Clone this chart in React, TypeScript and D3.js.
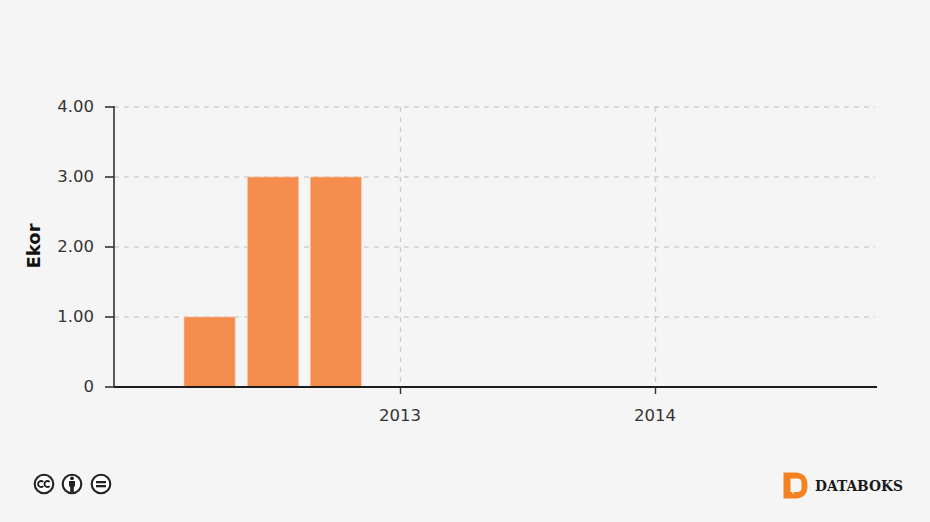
import React from "react";
import * as d3 from "d3";

const barDates = ["2012-04-03", "2012-07-03", "2012-10-01"];
const barValues = [1, 3, 3];
const yTicks = [0, 1, 2, 3, 4];
const xTickYears = [2013, 2014];
const yLabel = "Ekor";
const brand = "DATABOKS";

const W = 930, H = 522;
const font = "'DejaVu Sans', Verdana, sans-serif";
const axisColor = "#333";
const gridColor = "#cfcfcf";

const x = d3.scaleTime()
  .domain([new Date(2011, 10, 18), new Date(2014, 10, 16)])
  .range([114, 877]);
const y = d3.scaleLinear().domain([0, 4]).range([387, 107]);
const barW = 51;
const fmtY = (v: number) => (v === 0 ? "0" : d3.format(".2f")(v));

function parseDate(s: string) {
  const [a, b, c] = s.split("-").map(Number);
  return new Date(a, b - 1, c);
}

export default function App() {
  return (
    <svg width={W} height={H} viewBox={`0 0 ${W} ${H}`}
      style={{ position: "fixed", left: 0, top: 0, display: "block", background: "#f5f5f5" }}>
      <rect width={W} height={H} fill="#f5f5f5" />
      {yTicks.filter((t) => t > 0).map((t) => (
        <line key={t} x1={114} x2={875} y1={y(t)} y2={y(t)}
          stroke={gridColor} strokeWidth={1.4} strokeDasharray="5 5" />
      ))}
      {xTickYears.map((yr) => {
        const px = Math.round(x(new Date(yr, 0, 1))) + 0.5;
        return <line key={yr} x1={px} x2={px} y1={107} y2={387} stroke={gridColor} strokeWidth={1.4} strokeDasharray="5 5" />;
      })}
      {barDates.map((d, i) => {
        const cx = x(parseDate(d));
        return (
          <rect key={d} x={cx - barW / 2} y={y(barValues[i])} width={barW} height={y(0) - y(barValues[i])}
            fill="#f58d4f" stroke="#f9c3a2" strokeWidth={0.6} />
        );
      })}
      <line x1={114} x2={114} y1={106} y2={387} stroke={axisColor} strokeWidth={1.6} />
      <line x1={114} x2={877} y1={387} y2={387} stroke="#1c1c1c" strokeWidth={1.8} />
      {yTicks.map((t) => (
        <g key={t}>
          <line x1={105} x2={114} y1={y(t)} y2={y(t)} stroke={axisColor} strokeWidth={1.6} />
          <text x={94} y={y(t) + 5} textAnchor="end" fontFamily={font} fontSize={16.5} fill="#333">{fmtY(t)}</text>
        </g>
      ))}
      {xTickYears.map((yr) => {
        const px = Math.round(x(new Date(yr, 0, 1))) + 0.5;
        return (
          <g key={yr}>
            <line x1={px} x2={px} y1={387} y2={394} stroke={axisColor} strokeWidth={1.4} />
            <text x={px - 0.5} y={420.5} textAnchor="middle" fontFamily={font} fontSize={16.5} fill="#333">{yr}</text>
          </g>
        );
      })}
      <text transform="translate(40,246) rotate(-90)" textAnchor="middle" fontFamily={font} fontWeight={700} fontSize={18} fill="#111">{yLabel}</text>

      {/* licence icons */}
      <g fill="none" stroke="#222" strokeWidth={2.1}>
        <circle cx={44} cy={484} r={9.3} fill="#fff" />
        <circle cx={72} cy={484} r={9.3} fill="#fff" />
        <circle cx={101} cy={484} r={9.3} fill="#fff" />
      </g>
      <g fill="none" stroke="#222" strokeWidth={1.9}>
        <path d="M43.2 481.9a3 3 0 1 0 0 4.2" />
        <path d="M49.6 481.9a3 3 0 1 0 0 4.2" />
      </g>
      <g fill="#222">
        <circle cx={72} cy={478.3} r={1.9} />
        <path d="M69 481h6v5.5h-1.2v5.7h-3.6v-5.7H69z" />
        <rect x={96} y={481} width={10} height={2.3} />
        <rect x={96} y={485} width={10} height={2.3} />
      </g>

      {/* brand */}
      <path d="M783.5 472.5h12c8 0 12 5 12 13s-4 13-12 13h-12z" fill="#f5821f" />
      <path d="M790.5 478.5h6.5c3 0 4.5 1.5 4.5 4v5.5c0 2.5-1.5 4-4.5 4h-2.5l-2 2.5v-2.5h-2z" fill="#f5f5f5" />
      <text x={815} y={491} fontFamily="'DejaVu Serif', serif" fontWeight={700} fontSize={14.5} textLength={88} lengthAdjust="spacingAndGlyphs" fill="#1a1a1a">{brand}</text>
    </svg>
  );
}
